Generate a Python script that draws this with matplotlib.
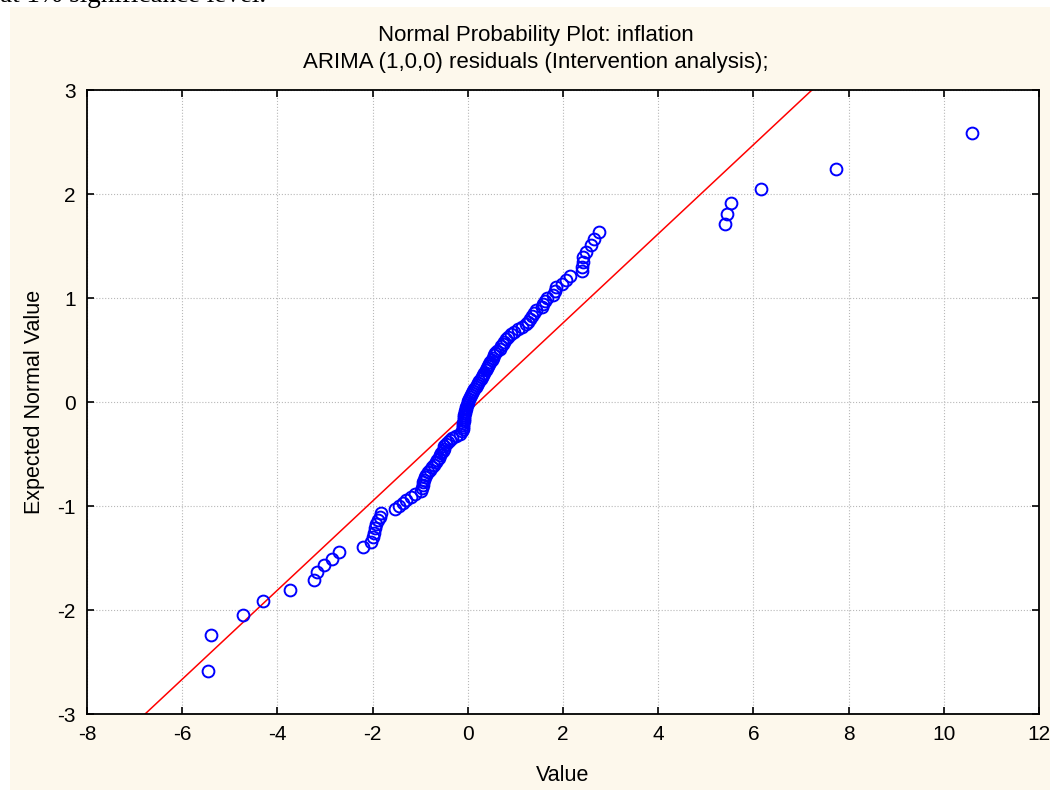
"""
Normal probability plot of ARIMA (1,0,0) residuals for inflation
"""

# IMPORT
import matplotlib
matplotlib.use('Agg')
import matplotlib.pyplot as plt
from matplotlib.patches import Rectangle

# DATA (sorted by residual)
residual = [-5.45, -5.40, -4.72, -4.30, -3.74, -3.23, -3.17, -3.02, -2.86, -2.70,
            -2.20, -2.04, -2.00, -1.98, -1.95, -1.92, -1.89, -1.84, -1.82, -1.53,
            -1.44, -1.37, -1.29, -1.20, -1.11, -0.98, -0.96, -0.95, -0.94, -0.92,
            -0.90, -0.87, -0.84, -0.80, -0.76, -0.72, -0.67, -0.64, -0.61, -0.58,
            -0.56, -0.53, -0.51, -0.49, -0.46, -0.42, -0.38, -0.33, -0.24, -0.17,
            -0.13, -0.11, -0.10, -0.10, -0.10, -0.09, -0.09, -0.08, -0.07, -0.06,
            -0.05, -0.04, -0.03, -0.01, 0.00,
            0.01, 0.03, 0.05, 0.06, 0.08, 0.10, 0.13, 0.18, 0.20, 0.22,
            0.24, 0.27, 0.30, 0.32, 0.35, 0.38, 0.40, 0.43, 0.45, 0.47,
            0.50, 0.52, 0.55, 0.58, 0.62, 0.67, 0.70, 0.73, 0.76, 0.80,
            0.85, 0.91, 0.98, 1.06, 1.14, 1.22, 1.27, 1.30, 1.35, 1.39,
            1.44, 1.55, 1.59, 1.63, 1.67, 1.78, 1.83, 1.86, 1.97, 2.06,
            2.14, 2.40, 2.40, 2.41, 2.43, 2.48, 2.58, 2.66, 2.76, 5.40,
            5.44, 5.52, 6.15, 7.73, 10.59]

expected = [-2.590, -2.241, -2.050, -1.913, -1.805, -1.715, -1.636, -1.567, -1.505, -1.447,
            -1.394, -1.345, -1.299, -1.255, -1.214, -1.175, -1.137, -1.101, -1.067, -1.033,
            -1.001, -0.970, -0.939, -0.910, -0.881, -0.853, -0.826, -0.799, -0.773, -0.747,
            -0.722, -0.698, -0.673, -0.650, -0.626, -0.603, -0.580, -0.557, -0.535, -0.513,
            -0.491, -0.469, -0.448, -0.427, -0.406, -0.385, -0.364, -0.344, -0.323, -0.303,
            -0.283, -0.263, -0.243, -0.223, -0.204, -0.184, -0.165, -0.145, -0.126, -0.106,
            -0.087, -0.068, -0.048, -0.029, -0.010,
            0.010, 0.029, 0.048, 0.068, 0.087, 0.106, 0.126, 0.145, 0.165, 0.184,
            0.204, 0.223, 0.243, 0.263, 0.283, 0.303, 0.323, 0.344, 0.364, 0.385,
            0.406, 0.427, 0.448, 0.469, 0.491, 0.513, 0.535, 0.557, 0.580, 0.603,
            0.626, 0.650, 0.673, 0.698, 0.722, 0.747, 0.773, 0.799, 0.826, 0.853,
            0.881, 0.910, 0.939, 0.970, 1.001, 1.033, 1.067, 1.101, 1.137, 1.175,
            1.214, 1.255, 1.299, 1.345, 1.394, 1.447, 1.505, 1.567, 1.636, 1.715,
            1.805, 1.913, 2.050, 2.241, 2.590]

# reference line: expected = (value - line_mean) / line_sd
line_mean = 0.225
line_sd = 2.335

x_ticks = [-8, -6, -4, -2, 0, 2, 4, 6, 8, 10, 12]
y_ticks = [-3, -2, -1, 0, 1, 2, 3]

title = 'Normal Probability Plot: inflation\nARIMA (1,0,0) residuals (Intervention analysis);'
cut_text = 'at 1% significance level.'

# PLOT
plt.rcParams['font.family'] = ['Liberation Sans', 'DejaVu Sans']
plt.rcParams['axes.unicode_minus'] = False
fig = plt.figure(figsize=(10.5, 7.9), dpi=100)
fig.patch.set_facecolor('white')
bg = Rectangle((10 / 1050, 0), 1, 1 - 7 / 790, transform=fig.transFigure,
               facecolor='#fdf8ec', edgecolor='none', zorder=-10)
fig.add_artist(bg)
# sentence from the page above the chart, only its lower edge shows
fig.text(0.0, 1 - 2 / 790, cut_text, fontsize=19.5, family='Liberation Serif',
         va='baseline', ha='left')

# title is centred on the whole panel, not on the axes
fig.text(536 / 1050, 1 - 49 / 790, title, fontsize=16, linespacing=1.38,
         ha='center', va='center')

ax = fig.add_axes([87 / 1050, 76 / 790, 952 / 1050, 624 / 790])
ax.set_facecolor('white')
ax.set_zorder(1)

y_line = [y_ticks[0], y_ticks[-1]]
x_line = [line_mean + line_sd * y for y in y_line]
ax.plot(x_line, y_line, color='red', lw=1.1, zorder=2)
ax.plot(residual, expected, 'o', mfc='none', mec='#0000ff', ms=8.5, mew=1.4, zorder=3)

ax.set_xlim(x_ticks[0], x_ticks[-1])
ax.set_ylim(y_ticks[0], y_ticks[-1])
ax.set_xticks(x_ticks)
ax.set_yticks(y_ticks)
ax.grid(True, ls=':', color='#b8b8b8', lw=0.8)
ax.tick_params(direction='in', top=True, right=True, length=5, width=1.2, labelsize=15, pad=8)
for s in ax.spines.values():
    s.set_linewidth(1.3)

ax.set_xlabel('Value', fontsize=15.5, labelpad=15)
ax.set_ylabel('Expected Normal Value', fontsize=15.5, labelpad=9)

fig.savefig('out.png', dpi=100, facecolor=fig.get_facecolor())
